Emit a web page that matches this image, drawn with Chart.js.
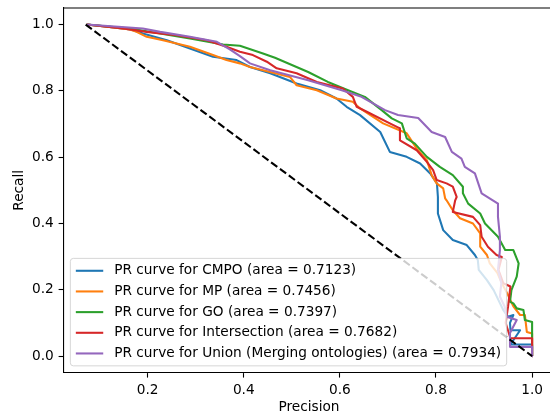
<!DOCTYPE html>
<html>
<head>
<meta charset="utf-8">
<script src="https://cdn.jsdelivr.net/npm/chart.js@4/dist/chart.umd.min.js"></script>
<style>
html,body{margin:0;padding:0;overflow:hidden;background:#fff;width:550px;height:416px;}
#wrap{position:relative;width:550px;height:416px;overflow:hidden;}
canvas{display:block;position:absolute;left:0;top:0;}
</style>
</head>
<body>
<div id="wrap"><canvas id="c" width="560" height="416" style="width:560px;height:416px"></canvas></div>
<script>
// ---- data ----
const seriesLabels = [
  "PR curve for CMPO (area = 0.7123)",
  "PR curve for MP (area = 0.7456)",
  "PR curve for GO (area = 0.7397)",
  "PR curve for Intersection (area = 0.7682)",
  "PR curve for Union (Merging ontologies) (area = 0.7934)"
];
const seriesColors = ["#1f77b4", "#ff7f0e", "#2ca02c", "#d62728", "#9467bd"];

const cmpoPrecision = [0.073,0.12,0.165,0.19,0.24,0.288,0.336,0.385,0.413,0.455,0.51,0.559,0.593,0.614,0.642,0.684,0.704,0.739,0.767,0.788,0.802,0.804,0.804,0.815,0.835,0.864,0.881,0.887,0.889,0.906,0.92,0.93,0.94,0.95,0.961,0.954,0.955,0.975,0.955,1.0,1.0];
const cmpoRecall    = [1.0,0.993,0.985,0.973,0.953,0.928,0.903,0.893,0.872,0.853,0.822,0.802,0.777,0.752,0.727,0.676,0.616,0.601,0.581,0.551,0.521,0.48,0.43,0.38,0.35,0.335,0.305,0.29,0.26,0.229,0.199,0.169,0.139,0.119,0.124,0.10,0.078,0.078,0.035,0.035,0.0];

const mpPrecision = [0.073,0.12,0.163,0.177,0.198,0.232,0.288,0.336,0.364,0.392,0.413,0.455,0.496,0.51,0.552,0.593,0.627,0.642,0.69,0.739,0.76,0.781,0.791,0.8015,0.815,0.819,0.822,0.835,0.85,0.877,0.892,0.892,0.906,0.912,0.928,0.937,0.948,0.955,0.961,0.975,0.985,0.989,1.0,1.0];
const mpRecall    = [1.0,0.993,0.985,0.978,0.963,0.953,0.933,0.908,0.893,0.883,0.872,0.857,0.842,0.817,0.802,0.777,0.767,0.747,0.702,0.672,0.626,0.591,0.546,0.521,0.506,0.476,0.47,0.44,0.416,0.4,0.37,0.33,0.305,0.28,0.25,0.22,0.19,0.168,0.15,0.124,0.124,0.073,0.068,0.0];

const goPrecision = [0.073,0.163,0.226,0.288,0.357,0.392,0.44,0.465,0.534,0.575,0.617,0.652,0.687,0.708,0.729,0.739,0.756,0.781,0.808,0.835,0.856,0.856,0.867,0.892,0.902,0.929,0.944,0.961,0.972,0.968,0.957,0.954,0.961,0.968,0.982,0.985,1.0,1.0];
const goRecall    = [1.0,0.988,0.973,0.958,0.94,0.936,0.913,0.9,0.857,0.827,0.802,0.782,0.742,0.717,0.702,0.657,0.641,0.601,0.571,0.546,0.511,0.491,0.46,0.43,0.4,0.36,0.32,0.32,0.28,0.24,0.199,0.164,0.159,0.144,0.139,0.109,0.103,0.0];

const interPrecision = [0.073,0.149,0.198,0.26,0.323,0.364,0.392,0.419,0.448,0.4685,0.51,0.552,0.606,0.627,0.635,0.656,0.704,0.725,0.725,0.76,0.781,0.794,0.8015,0.822,0.835,0.843,0.84,0.835,0.877,0.892,0.895,0.908,0.926,0.937,0.93,0.94,0.955,0.95,0.945,0.955,1.0,1.0];
const interRecall    = [1.0,0.988,0.978,0.968,0.953,0.933,0.918,0.908,0.888,0.868,0.853,0.827,0.807,0.782,0.752,0.737,0.702,0.687,0.651,0.621,0.586,0.561,0.531,0.521,0.511,0.48,0.47,0.435,0.42,0.395,0.36,0.33,0.305,0.299,0.26,0.22,0.21,0.15,0.10,0.054,0.054,0.0];

const unionPrecision = [0.073,0.19,0.226,0.288,0.344,0.371,0.392,0.413,0.455,0.534,0.604,0.645,0.694,0.721,0.763,0.791,0.819,0.833,0.853,0.86,0.881,0.895,0.929,0.929,0.933,0.933,0.929,0.936,0.933,0.943,0.947,0.968,0.954,0.954,1.0,1.0];
const unionRecall    = [1.0,0.988,0.978,0.963,0.948,0.925,0.905,0.883,0.862,0.832,0.802,0.782,0.742,0.727,0.718,0.676,0.661,0.616,0.596,0.571,0.551,0.491,0.46,0.42,0.36,0.32,0.26,0.22,0.18,0.149,0.119,0.109,0.07,0.028,0.028,0.0];

const diagPrecision = [0.071, 1.0];
const diagRecall    = [1.0, 0.0];

const xTicks = [0.2, 0.4, 0.6, 0.8, 1.0];
const yTicks = [0.0, 0.2, 0.4, 0.6, 0.8, 1.0];
const xLabel = "Precision";
const yLabel = "Recall";

// ---- build chart ----
const FS = 13.7;
const FONT = {family: "'DejaVu Sans', sans-serif", size: FS};
const LW = 2.08;

function pts(xs, ys){ return xs.map((x,i)=>({x:x, y:ys[i]})); }
const seriesX = [cmpoPrecision, mpPrecision, goPrecision, interPrecision, unionPrecision];
const seriesY = [cmpoRecall, mpRecall, goRecall, interRecall, unionRecall];

const datasets = seriesLabels.map((lab,i)=>({
  label: lab,
  data: pts(seriesX[i], seriesY[i]),
  borderColor: seriesColors[i],
  backgroundColor: seriesColors[i],
  borderWidth: LW,
  showLine: true,
  pointRadius: 0,
  tension: 0,
  borderJoinStyle: 'round',
  order: 10 - i
}));
datasets.push({
  label: '',
  data: pts(diagPrecision, diagRecall),
  borderColor: '#000',
  borderWidth: LW,
  borderDash: [7.7, 3.3],
  showLine: true,
  pointRadius: 0,
  order: 0,
  isDiag: true
});

const framePlugin = {
  id: 'frame',
  afterDatasetsDraw(chart){
    const {ctx, chartArea:a} = chart;
    ctx.save();
    ctx.strokeStyle = '#000';
    ctx.lineWidth = 1.1;
    ctx.beginPath();
    ctx.moveTo(a.left, a.top); ctx.lineTo(a.right, a.top);
    ctx.lineTo(a.right, a.bottom);
    ctx.stroke();
    ctx.restore();
  }
};

const legendPlugin = {
  id: 'mplLegend',
  afterDraw(chart){
    const {ctx, chartArea:a} = chart;
    const ds = chart.data.datasets.filter(d=>!d.isDiag);
    ctx.save();
    ctx.font = FS + "px 'DejaVu Sans', sans-serif";
    let tw = 0;
    ds.forEach(d=>{ tw = Math.max(tw, ctx.measureText(d.label).width); });
    const bp = 0.4*FS, hl = 2.0*FS, htp = 0.8*FS, ls = 0.5*FS, th = 13.82;
    const w = 2*bp + hl + htp + tw;
    const h = 2*bp + ds.length*th + (ds.length-1)*ls;
    const x0 = a.left + 0.5*FS;
    const y1 = a.bottom - 0.5*FS;
    const y0 = y1 - h;
    const r = 3;
    ctx.beginPath();
    ctx.moveTo(x0+r, y0);
    ctx.lineTo(x0+w-r, y0); ctx.arcTo(x0+w, y0, x0+w, y0+r, r);
    ctx.lineTo(x0+w, y1-r); ctx.arcTo(x0+w, y1, x0+w-r, y1, r);
    ctx.lineTo(x0+r, y1); ctx.arcTo(x0, y1, x0, y1-r, r);
    ctx.lineTo(x0, y0+r); ctx.arcTo(x0, y0, x0+r, y0, r);
    ctx.closePath();
    ctx.fillStyle = 'rgba(255,255,255,0.8)';
    ctx.fill();
    ctx.strokeStyle = 'rgba(204,204,204,0.8)';
    ctx.lineWidth = 1;
    ctx.stroke();
    ds.forEach((d,i)=>{
      const cy = y0 + bp + th/2 + i*(th+ls);
      ctx.strokeStyle = d.borderColor;
      ctx.lineWidth = LW;
      ctx.beginPath();
      ctx.moveTo(x0+bp, cy); ctx.lineTo(x0+bp+hl, cy);
      ctx.stroke();
      ctx.fillStyle = '#000';
      ctx.textBaseline = 'middle';
      ctx.textAlign = 'left';
      ctx.fillText(d.label, x0+bp+hl+htp, cy);
    });
    ctx.restore();
  }
};

function zeroPad(s){ s.paddingTop = 0; s.paddingBottom = 0; s.paddingLeft = 0; s.paddingRight = 0; }

const axisCommon = {
  type: 'linear',
  border: {display: true, color: '#000', width: 1.1},
  grid: {display: true, drawOnChartArea: false, drawTicks: true, tickLength: 4.9, tickColor: '#000', tickWidth: 1.1},
  ticks: {font: FONT, color: '#000', padding: 4.9, autoSkip: false, maxRotation: 0, callback: v => Number(v).toFixed(1)}
};

new Chart(document.getElementById('c'), {
  type: 'scatter',
  data: {datasets},
  plugins: [framePlugin, legendPlugin],
  options: {
    responsive: false,
    animation: false,
    devicePixelRatio: 1,
    layout: {padding: {left: 0, top: 8, right: 5.6, bottom: 0}},
    plugins: {legend: {display: false}, tooltip: {enabled: false}},
    scales: {
      x: Object.assign({}, axisCommon, {
        position: 'bottom',
        min: 0.0249, max: 1.0464,
        afterBuildTicks: s => { s.ticks = xTicks.map(v=>({value:v})); },
        afterFit: s => { s.height = 43.3; zeroPad(s); },
        title: {display: true, text: xLabel, font: FONT, color: '#000', padding: {top: 0, bottom: 0.8}}
      }),
      y: Object.assign({}, axisCommon, {
        position: 'left',
        min: -0.05, max: 1.05,
        afterBuildTicks: s => { s.ticks = yTicks.map(v=>({value:v})); },
        afterFit: s => { s.width = 63.5; zeroPad(s); },
        title: {display: true, text: yLabel, font: FONT, color: '#000', padding: {top: 10.8, bottom: 0}}
      })
    }
  }
});
</script>
</body>
</html>
